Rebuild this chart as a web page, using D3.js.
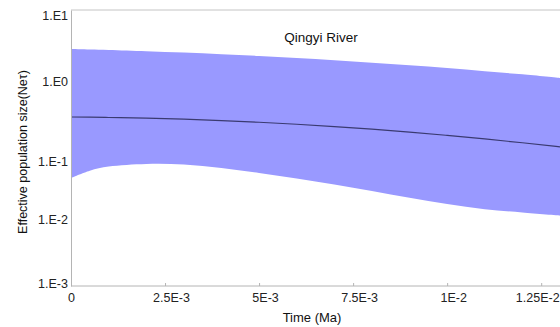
<!DOCTYPE html>
<html>
<head>
<meta charset="utf-8">
<script src="https://cdn.jsdelivr.net/npm/d3@7"></script>
<style>
  body { margin: 0; background: #fff; }
  svg { display: block; font-family: "Liberation Sans", Arial, sans-serif; }
  .axis path, .axis line { stroke: #b4b4b4; }
  .axis text { fill: #222; font-size: 12.5px; }
</style>
</head>
<body>
<div id="chart"></div>
<script>
// time points (Ma)
var times = [0, 0.0005, 0.001, 0.002, 0.003, 0.004, 0.005, 0.006, 0.007, 0.008, 0.009, 0.010, 0.011, 0.012, 0.013];
// upper 95% HPD
var upper = [2.82, 2.78, 2.74, 2.63, 2.52, 2.39, 2.25, 2.11, 1.96, 1.81, 1.66, 1.52, 1.37, 1.24, 1.10];
// median
var median = [0.355, 0.353, 0.350, 0.343, 0.333, 0.320, 0.305, 0.288, 0.269, 0.250, 0.230, 0.209, 0.189, 0.169, 0.150];
// lower 95% HPD
var lower = [0.0509, 0.068, 0.0800, 0.0888, 0.0870, 0.0757, 0.0621, 0.0499, 0.0393, 0.0304, 0.0232, 0.0181, 0.0148, 0.0129, 0.0114];

var xTicks = [0, 0.0025, 0.005, 0.0075, 0.01, 0.0125];
var xTickLabels = ["0", "2.5E-3", "5E-3", "7.5E-3", "1E-2", "1.25E-2"];
var yTicks = [1e-3, 1e-2, 1e-1, 1e0, 1e1];
var yTickLabels = ["1.E-3", "1.E-2", "1.E-1", "1.E0", "1.E1"];

var width = 560, height = 327;
var margin = {left: 71, top: 10, bottom: 41, right: 0};

var data = times.map(function(t, i){
    return {t: t, lo: lower[i], mid: median[i], hi: upper[i]};
});

var svg = d3.select("#chart").append("svg")
    .attr("width", width)
    .attr("height", height);

var xScale = d3.scaleLinear()
    .domain([0, 0.013])
    .range([margin.left, width - margin.right]);

// log axis, decades spaced as in the original figure
var yScale = d3.scaleLog()
    .domain(yTicks)
    .range([286, 219, 161, 81, margin.top]);

// band
var area = d3.area()
    .x(function(d){ return xScale(d.t); })
    .y0(function(d){ return yScale(d.lo); })
    .y1(function(d){ return yScale(d.hi); })
    .curve(d3.curveCatmullRom.alpha(0.5));

svg.append("path")
    .datum(data)
    .attr("d", area)
    .attr("fill", "#9999ff");

// median line
var line = d3.line()
    .x(function(d){ return xScale(d.t); })
    .y(function(d){ return yScale(d.mid); })
    .curve(d3.curveMonotoneX);

svg.append("path")
    .datum(data)
    .attr("d", line)
    .attr("fill", "none")
    .attr("stroke", "#3a3a70")
    .attr("stroke-width", 1.2);

// top border
svg.append("line")
    .attr("x1", margin.left).attr("x2", width)
    .attr("y1", margin.top).attr("y2", margin.top)
    .attr("stroke", "#c4c4c4");

// axes
var xAxis = d3.axisBottom(xScale)
    .tickValues(xTicks)
    .tickSize(-3)
    .tickPadding(7)
    .tickFormat(function(d, i){ return xTickLabels[i]; });

var gx = svg.append("g")
    .attr("class", "axis")
    .attr("transform", "translate(0," + yScale(1e-3) + ")")
    .call(xAxis);
gx.select(".domain").attr("d", "M" + margin.left + ",0H" + width);
gx.selectAll("text").attr("dx", function(d){
    if (d === 0) return 0;
    if (d === 0.0125) return -4;
    return 6;
});

var yAxis = d3.axisLeft(yScale)
    .tickValues(yTicks)
    .tickSize(0)
    .tickPadding(3)
    .tickFormat(function(d, i){ return yTickLabels[i]; });

var gy = svg.append("g")
    .attr("class", "axis")
    .attr("transform", "translate(" + margin.left + ",0)")
    .call(yAxis);
gy.selectAll("text").attr("dy", function(d){
    if (d === 1e1) return "0.72em";
    if (d === 1e-3) return "0.1em";
    return "0.32em";
});

// labels
svg.append("text")
    .attr("x", 321).attr("y", 42)
    .attr("text-anchor", "middle")
    .attr("font-size", 13.5)
    .attr("fill", "#111")
    .text("Qingyi River");

svg.append("text")
    .attr("x", 312).attr("y", 322)
    .attr("text-anchor", "middle")
    .attr("font-size", 13)
    .attr("fill", "#111")
    .text("Time (Ma)");

svg.append("text")
    .attr("transform", "translate(27,152) rotate(-90)")
    .attr("text-anchor", "middle")
    .attr("font-size", 12.5)
    .attr("fill", "#111")
    .text("Effective population size(Neτ)");
</script>
</body>
</html>
